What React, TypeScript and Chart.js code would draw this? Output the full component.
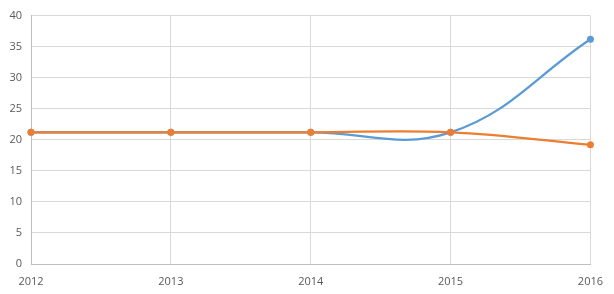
import React, { useEffect, useRef } from "react";
import { Chart, registerables } from "chart.js";

Chart.register(...registerables);

const categories = ["2012", "2013", "2014", "2015", "2016"];
const seriesBlue = [21.2, 21.2, 21.2, 21.2, 36.2];
const seriesOrange = [21.2, 21.2, 21.2, 21.2, 19.2];
const yTicks = [0, 5, 10, 15, 20, 25, 30, 35, 40];

export default function App() {
  const ref = useRef<HTMLCanvasElement | null>(null);
  useEffect(() => {
    document.body.style.margin = "0";
    const ctx = ref.current!;
    const chart = new Chart(ctx, {
      type: "line",
      data: {
        labels: categories,
        datasets: [
          {
            label: "Series 1",
            data: seriesBlue,
            borderColor: "#5B9BD5",
            backgroundColor: "#5B9BD5",
            pointBackgroundColor: "#5B9BD5",
            pointBorderWidth: 0,
            pointRadius: 3.5,
            borderWidth: 2.25,
            tension: 0.4,
            order: 2,
          },
          {
            label: "Series 2",
            data: seriesOrange,
            borderColor: "#ED7D31",
            backgroundColor: "#ED7D31",
            pointBackgroundColor: "#ED7D31",
            pointBorderWidth: 0,
            pointRadius: 3.5,
            borderWidth: 2.25,
            tension: 0.4,
            order: 1,
          },
        ],
      },
      options: {
        responsive: false,
        animation: false,
        layout: { padding: { top: 14, right: 23, left: 0, bottom: 0 } },
        plugins: { legend: { display: false }, tooltip: { enabled: false } },
        scales: {
          x: {
            offset: false,
            grid: { color: "#D9D9D9", drawTicks: false },
            border: { color: "#BFBFBF" },
            ticks: {
              color: "#595959",
              font: { family: "'Open Sans'", size: 11 },
              padding: 11,
              maxRotation: 0,
            },
            afterFit: (s: any) => {
              s.height = 30;
            },
          },
          y: {
            min: 0,
            max: 40,
            afterBuildTicks: (s: any) => {
              s.ticks = yTicks.map((v) => ({ value: v }));
            },
            grid: { color: "#D9D9D9", drawTicks: false },
            border: { color: "#BFBFBF" },
            ticks: {
              color: "#595959",
              font: { family: "'Open Sans'", size: 11 },
              padding: 9,
            },
            afterFit: (s: any) => {
              s.width = 31;
            },
          },
        },
      },
    });
    return () => chart.destroy();
  }, []);
  return (
    <div style={{ position: "relative", width: 614, height: 294, background: "#fff" }}>
      <canvas ref={ref} width={614} height={294} style={{ width: 614, height: 294 }} />
    </div>
  );
}
